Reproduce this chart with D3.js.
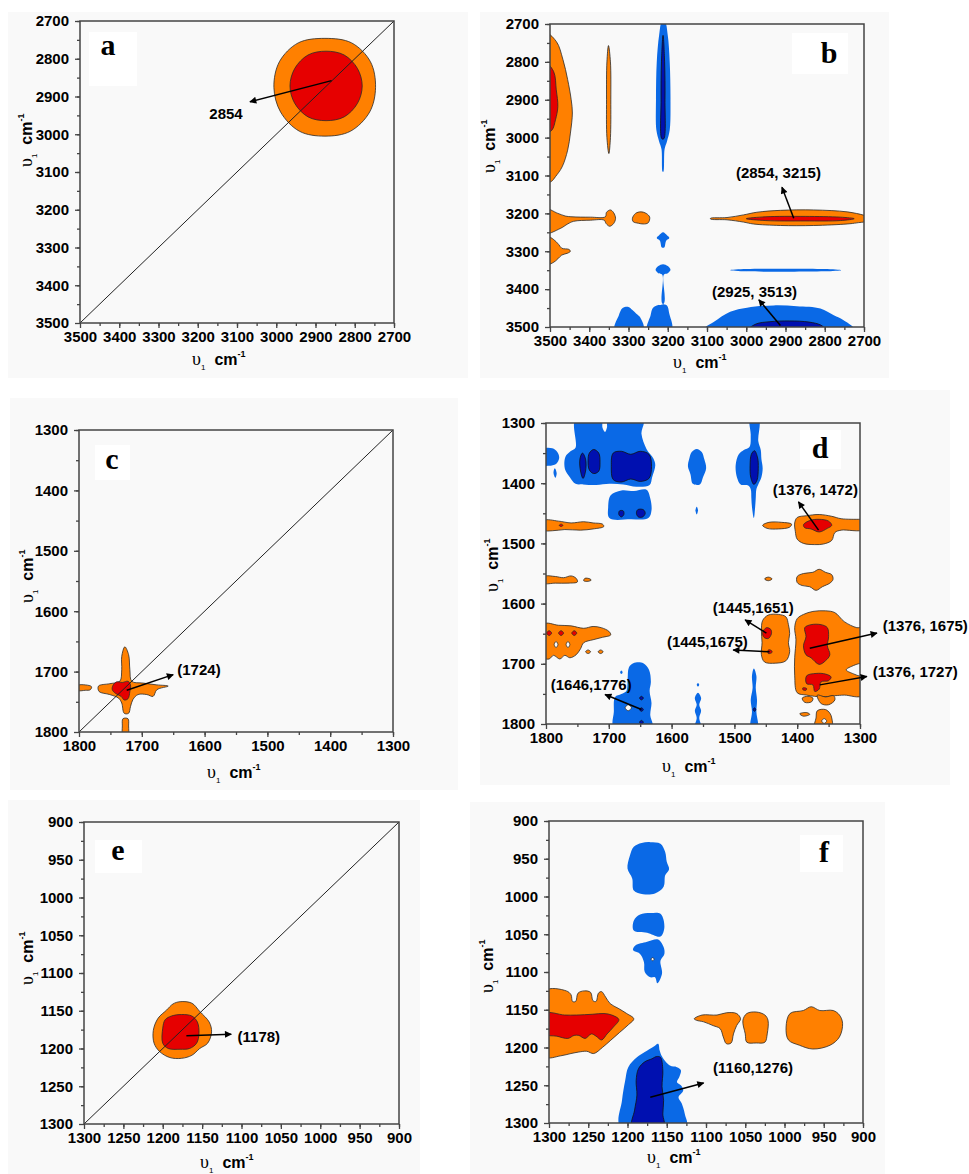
<!DOCTYPE html>
<html>
<head>
<meta charset="utf-8">
<script src="https://cdn.jsdelivr.net/npm/d3@7"></script>
<style>
body { margin: 0; background: #fff; }
</style>
</head>
<body>
<div id="chart"></div>
<script>
// tick labels (cm-1)
const ticksHigh = [3500, 3400, 3300, 3200, 3100, 3000, 2900, 2800, 2700]
const ticksMid = [1800, 1700, 1600, 1500, 1400, 1300]
const ticksLow = [1300, 1250, 1200, 1150, 1100, 1050, 1000, 950, 900]

// contour regions, [v1, v2] in cm-1, lv: o = +low, r = +high, b = -low, n = -high, w = hole
const shapesA = [
  {lv: 'o', pts: [[3006,2876],[2989,2941],[2941,2992],[2876,3005],[2811,2992],[2762,2941],[2747,2876],[2760,2808],[2808,2758],[2876,2746],[2944,2758],[2992,2808]]},
  {lv: 'r', pts: [[2965,2872],[2953,2918],[2919,2954],[2873,2964],[2827,2954],[2793,2918],[2781,2872],[2793,2826],[2827,2790],[2873,2780],[2919,2790],[2953,2826]]}
]
const shapesB = [
  {lv: 'o', pts: [[3515,2722],[3484,2746],[3467,2794],[3455,2847],[3446,2900],[3443,2935],[3448,2988],[3455,3033],[3469,3077],[3486,3103],[3497,3116],[3515,3120]]},
  {lv: 'r', pts: [[3515,2799],[3491,2825],[3484,2874],[3480,2918],[3486,2953],[3495,2980],[3515,2990]]},
  {lv: 'o', pts: [[3351,2757],[3346,2800],[3345,2900],[3346,3000],[3350,3042],[3355,3000],[3356,2900],[3355,2800]]},
  {lv: 'b', pts: [[3215,2695],[3222,2730],[3228,2800],[3230,2900],[3229,2980],[3222,3010],[3216,3030],[3213,3090],[3211,3090],[3208,3030],[3202,3010],[3195,2980],[3193,2900],[3195,2800],[3200,2730],[3207,2695]]},
  {lv: 'n', pts: [[3212,2730],[3216,2800],[3217,2900],[3215,3003],[3210,3003],[3207,2900],[3208,2800]]},
  {lv: 'o', pts: [[3515,3187],[3480,3200],[3461,3207],[3444,3209],[3397,3210],[3359,3209],[3356,3197],[3346,3191],[3338,3198],[3333,3213],[3338,3227],[3348,3234],[3357,3227],[3362,3218],[3397,3218],[3440,3221],[3455,3228],[3474,3240],[3515,3253]]},
  {lv: 'o', pts: [[3290,3213],[3282,3200],[3268,3196],[3255,3200],[3246,3210],[3250,3225],[3262,3228],[3275,3226],[3288,3222]]},
  {lv: 'o', pts: [[3091,3213],[3049,3211],[3007,3204],[2973,3197],[2913,3192],[2828,3191],[2743,3196],[2700,3205],[2690,3209],[2690,3219],[2718,3225],[2743,3228],[2828,3232],[2913,3232],[2982,3228],[3007,3223],[3049,3217],[3091,3215]]},
  {lv: 'r', pts: [[3000,3214],[2950,3209],[2850,3208],[2760,3210],[2725,3214],[2760,3219],[2850,3220],[2950,3219]]},
  {lv: 'o', pts: [[3515,3258],[3492,3268],[3478,3282],[3470,3292],[3452,3295],[3448,3300],[3455,3305],[3470,3310],[3480,3320],[3492,3330],[3515,3336]]},
  {lv: 'b', pts: [[3212,3250],[3222,3258],[3228,3265],[3220,3272],[3215,3290],[3209,3290],[3204,3272],[3196,3265],[3202,3258]]},
  {lv: 'b', pts: [[3212,3334],[3224,3339],[3231,3349],[3224,3358],[3214,3362],[3214,3438],[3202,3443],[3196,3465],[3190,3505],[3252,3505],[3244,3470],[3238,3450],[3228,3443],[3210,3438],[3210,3362],[3200,3358],[3193,3349],[3200,3339]]},
  {lv: 'b', pts: [[3335,3505],[3325,3470],[3315,3450],[3300,3447],[3290,3455],[3280,3465],[3270,3475],[3262,3505]]},
  {lv: 'b', pts: [[3042,3350],[3000,3347],[2900,3346],[2800,3347],[2758,3350],[2800,3353],[2900,3354],[3000,3353]]},
  {lv: 'b', pts: [[3107,3505],[3083,3487],[3041,3460],[2998,3449],[2930,3443],[2871,3445],[2811,3451],[2777,3469],[2752,3482],[2726,3505]]},
  {lv: 'n', pts: [[2992,3505],[2975,3492],[2940,3486],[2890,3484],[2840,3487],[2810,3495],[2800,3505]]}
]
const shapesC = [
  {lv: 'o', pts: [[1727,1659],[1721,1672],[1719,1697],[1716,1716],[1698,1719],[1676,1722],[1658,1724],[1676,1730],[1682,1741],[1692,1738],[1706,1738],[1714,1746],[1718,1758],[1721,1769],[1728,1769],[1732,1752],[1737,1744],[1751,1738],[1768,1733],[1769,1724],[1751,1720],[1735,1716],[1732,1697],[1732,1675]]},
  {lv: 'o', pts: [[1802,1723],[1790,1722],[1780,1725],[1782,1730],[1790,1731],[1802,1731]]},
  {lv: 'o', pts: [[1730,1778],[1722,1778],[1721,1790],[1722,1805],[1730,1805],[1731,1790]]},
  {lv: 'r', pts: [[1746,1723],[1740,1717],[1731,1718],[1722,1716],[1718,1722],[1719,1733],[1722,1745],[1728,1747],[1733,1741],[1742,1736],[1747,1730]]}
]
const shapesD = [
  {lv: 'b', pts: [[1753,1294],[1712,1294],[1710,1308],[1706,1315],[1703,1308],[1701,1294],[1645,1294],[1648,1318],[1640,1343],[1629,1359],[1626,1370],[1631,1390],[1635,1403],[1656,1406],[1677,1402],[1699,1401],[1720,1403],[1741,1402],[1753,1401],[1762,1390],[1770,1376],[1769,1356],[1761,1347],[1753,1341]]},
  {lv: 'b', pts: [[1803,1343],[1790,1342],[1782,1348],[1779,1358],[1784,1368],[1795,1371],[1803,1370]]},
  {lv: 'b', pts: [[1786,1375],[1783,1383],[1785,1391],[1788,1383]]},
  {lv: 'n', pts: [[1742,1350],[1737,1360],[1737,1380],[1741,1392],[1745,1380],[1746,1360]]},
  {lv: 'n', pts: [[1724,1344],[1716,1350],[1714,1365],[1716,1380],[1724,1384],[1731,1378],[1733,1362],[1731,1350]]},
  {lv: 'n', pts: [[1693,1350],[1680,1347],[1665,1352],[1650,1347],[1636,1352],[1632,1372],[1636,1392],[1650,1397],[1665,1393],[1680,1398],[1693,1394],[1696,1372]]},
  {lv: 'b', pts: [[1697,1420],[1680,1412],[1660,1413],[1640,1411],[1634,1425],[1632,1445],[1637,1458],[1665,1460],[1699,1458],[1701,1440]]},
  {lv: 'n', pts: [[1683,1446],[1677,1446],[1676,1452],[1680,1456],[1684,1452]]},
  {lv: 'n', pts: [[1654,1444],[1645,1444],[1642,1450],[1646,1456],[1653,1456],[1656,1450]]},
  {lv: 'b', pts: [[1560,1343],[1568,1348],[1572,1360],[1574,1372],[1570,1385],[1566,1401],[1555,1402],[1550,1390],[1545,1375],[1548,1360],[1552,1348]]},
  {lv: 'b', pts: [[1560,1439],[1562,1445],[1560,1452],[1558,1445]]},
  {lv: 'b', pts: [[1475,1294],[1461,1294],[1462,1330],[1458,1345],[1457,1360],[1455,1375],[1457,1390],[1462,1402],[1465,1410],[1466,1425],[1467,1440],[1469,1458],[1472,1440],[1473,1425],[1474,1410],[1478,1404],[1490,1402],[1496,1390],[1498,1370],[1493,1352],[1485,1345],[1476,1340],[1474,1320]]},
  {lv: 'n', pts: [[1468,1346],[1463,1358],[1462,1375],[1464,1395],[1469,1402],[1474,1390],[1475,1370],[1473,1352]]},
  {lv: 'b', pts: [[1661,1699],[1645,1699],[1636,1710],[1633,1730],[1635,1745],[1632,1765],[1634,1785],[1631,1805],[1692,1805],[1692,1780],[1690,1755],[1680,1750],[1672,1745],[1670,1725],[1668,1706]]},
  {lv: 'b', pts: [[1680,1711],[1682,1714],[1680,1717],[1678,1714]]},
  {lv: 'w', pts: [[1669,1768],[1664,1773],[1669,1778],[1674,1773]]},
  {lv: 'n', pts: [[1648,1754],[1651,1757],[1648,1760],[1645,1757]]},
  {lv: 'n', pts: [[1648,1773],[1651,1776],[1648,1779],[1645,1776]]},
  {lv: 'n', pts: [[1648,1794],[1651,1797],[1648,1800],[1645,1797]]},
  {lv: 'b', pts: [[1558,1732],[1560,1735],[1558,1738],[1556,1735]]},
  {lv: 'b', pts: [[1558,1748],[1563,1757],[1560,1768],[1563,1778],[1560,1790],[1563,1805],[1553,1805],[1556,1790],[1553,1778],[1556,1768],[1553,1757]]},
  {lv: 'b', pts: [[1469,1708],[1472,1720],[1471,1740],[1474,1760],[1472,1780],[1474,1805],[1463,1805],[1465,1780],[1464,1760],[1466,1740],[1465,1720]]},
  {lv: 'n', pts: [[1468,1773],[1470,1776],[1468,1779],[1466,1776]]},
  {lv: 'o', pts: [[1803,1462],[1780,1463],[1760,1466],[1740,1464],[1725,1466],[1710,1468],[1708,1472],[1725,1476],[1745,1478],[1770,1477],[1790,1479],[1803,1478]]},
  {lv: 'r', pts: [[1776,1468],[1779,1470],[1776,1472],[1773,1470]]},
  {lv: 'o', pts: [[1455,1470],[1445,1465],[1425,1465],[1409,1468],[1412,1473],[1430,1476],[1448,1475]]},
  {lv: 'o', pts: [[1404,1466],[1400,1457],[1385,1454],[1365,1452],[1345,1455],[1330,1459],[1300,1460],[1295,1460],[1295,1477],[1330,1478],[1340,1482],[1345,1495],[1358,1501],[1372,1502],[1390,1500],[1400,1493],[1403,1480]]},
  {lv: 'r', pts: [[1390,1469],[1380,1462],[1365,1460],[1350,1463],[1345,1470],[1352,1475],[1365,1481],[1378,1476],[1388,1474]]},
  {lv: 'o', pts: [[1803,1555],[1785,1555],[1772,1557],[1760,1554],[1752,1558],[1750,1564],[1765,1566],[1785,1566],[1803,1566]]},
  {lv: 'o', pts: [[1738,1558],[1730,1559],[1728,1561],[1733,1563],[1740,1562]]},
  {lv: 'o', pts: [[1452,1559],[1446,1556],[1440,1559],[1446,1562]]},
  {lv: 'o', pts: [[1400,1555],[1390,1550],[1375,1548],[1365,1543],[1355,1548],[1345,1552],[1343,1560],[1348,1566],[1360,1572],[1370,1578],[1380,1572],[1392,1570],[1400,1565]]},
  {lv: 'o', pts: [[1803,1634],[1780,1636],[1760,1637],[1740,1641],[1725,1638],[1712,1640],[1700,1646],[1697,1652],[1710,1656],[1725,1660],[1740,1665],[1745,1675],[1752,1685],[1762,1690],[1770,1686],[1778,1692],[1788,1686],[1795,1692],[1803,1690]]},
  {lv: 'r', pts: [[1795,1645],[1799,1649],[1795,1653],[1791,1649]]},
  {lv: 'r', pts: [[1776,1645],[1780,1649],[1776,1653],[1772,1649]]},
  {lv: 'r', pts: [[1755,1645],[1759,1649],[1755,1653],[1751,1649]]},
  {lv: 'w', pts: [[1784,1663],[1787,1668],[1784,1673],[1781,1668]]},
  {lv: 'w', pts: [[1765,1663],[1768,1668],[1765,1673],[1762,1668]]},
  {lv: 'o', pts: [[1733,1677],[1737,1680],[1733,1683],[1729,1680]]},
  {lv: 'o', pts: [[1713,1677],[1717,1680],[1713,1683],[1709,1680]]},
  {lv: 'o', pts: [[1446,1619],[1430,1618],[1418,1622],[1414,1635],[1412,1650],[1414,1665],[1412,1680],[1418,1695],[1435,1699],[1452,1697],[1457,1685],[1456,1665],[1457,1645],[1455,1628]]},
  {lv: 'r', pts: [[1449,1640],[1442,1643],[1441,1650],[1446,1658],[1453,1656],[1455,1648]]},
  {lv: 'r', pts: [[1446,1677],[1441,1678],[1440,1681],[1446,1683]]},
  {lv: 'o', pts: [[1400,1625],[1390,1618],[1375,1613],[1355,1612],[1340,1615],[1325,1630],[1305,1640],[1295,1640],[1295,1752],[1325,1752],[1340,1753],[1360,1755],[1385,1752],[1400,1748],[1404,1720],[1404,1690],[1402,1660],[1404,1640]]},
  {lv: 'w', pts: [[1296,1700],[1315,1705],[1322,1710],[1312,1716],[1296,1720]]},
  {lv: 'r', pts: [[1388,1640],[1378,1635],[1362,1635],[1352,1640],[1350,1655],[1352,1670],[1348,1685],[1355,1695],[1365,1701],[1378,1690],[1386,1685],[1390,1670],[1386,1655]]},
  {lv: 'r', pts: [[1385,1720],[1370,1716],[1355,1717],[1346,1722],[1350,1728],[1362,1730],[1365,1742],[1372,1746],[1375,1735],[1385,1733]]},
  {lv: 'r', pts: [[1391,1740],[1385,1741],[1386,1744],[1391,1743]]},
  {lv: 'o', pts: [[1392,1757],[1383,1754],[1375,1757],[1377,1763],[1388,1764]]},
  {lv: 'o', pts: [[1368,1752],[1355,1755],[1342,1753],[1340,1760],[1350,1768],[1362,1766]]},
  {lv: 'o', pts: [[1396,1783],[1385,1781],[1380,1784],[1390,1787]]},
  {lv: 'o', pts: [[1368,1778],[1355,1776],[1348,1782],[1345,1790],[1345,1805],[1372,1805],[1370,1790]]},
  {lv: 'w', pts: [[1357,1791],[1361,1795],[1357,1799],[1353,1795]]}
]
const shapesE = [
  {lv: 'o', pts: [[1178,1138],[1163,1140],[1153,1151],[1141,1165],[1138,1178],[1143,1193],[1153,1200],[1163,1209],[1176,1213],[1191,1212],[1204,1204],[1211,1193],[1212,1176],[1206,1160],[1195,1149],[1187,1141]]},
  {lv: 'r', pts: [[1176,1155],[1163,1157],[1156,1165],[1154,1180],[1157,1193],[1166,1200],[1178,1201],[1193,1200],[1200,1193],[1200,1173],[1197,1162],[1189,1157]]}
]
const shapesF = [
  {lv: 'b', pts: [[1171,928],[1158,930],[1152,941],[1150,954],[1147,964],[1152,972],[1154,987],[1165,996],[1180,997],[1192,992],[1194,976],[1200,963],[1197,946],[1192,934],[1182,929]]},
  {lv: 'b', pts: [[1171,1022],[1158,1023],[1153,1040],[1158,1053],[1175,1048],[1192,1045],[1192,1032],[1184,1024]]},
  {lv: 'b', pts: [[1161,1057],[1154,1067],[1153,1076],[1158,1085],[1156,1102],[1162,1115],[1165,1107],[1171,1107],[1178,1100],[1179,1087],[1184,1076],[1193,1071],[1190,1065],[1175,1060]]},
  {lv: 'w', pts: [[1168,1081],[1170,1083],[1168,1085],[1166,1083]]},
  {lv: 'b', pts: [[1209,1305],[1207,1270],[1203,1244],[1199,1226],[1188,1213],[1178,1206],[1167,1199],[1161,1195],[1159,1204],[1156,1212],[1146,1224],[1137,1226],[1132,1230],[1134,1239],[1137,1246],[1132,1250],[1129,1257],[1135,1266],[1131,1274],[1127,1288],[1125,1305]]},
  {lv: 'n', pts: [[1163,1212],[1158,1213],[1155,1230],[1156,1252],[1154,1270],[1155,1288],[1154,1305],[1194,1305],[1191,1283],[1188,1263],[1189,1244],[1186,1228],[1178,1219],[1169,1215]]},
  {lv: 'o', pts: [[1305,1125],[1278,1125],[1272,1130],[1270,1139],[1266,1139],[1263,1128],[1255,1125],[1247,1127],[1244,1138],[1240,1139],[1237,1128],[1233,1126],[1228,1133],[1222,1142],[1212,1148],[1201,1155],[1192,1162],[1199,1170],[1210,1180],[1222,1191],[1232,1200],[1243,1208],[1252,1205],[1262,1206],[1272,1208],[1285,1211],[1305,1212]]},
  {lv: 'r', pts: [[1305,1155],[1280,1157],[1265,1157],[1245,1156],[1230,1155],[1220,1157],[1211,1163],[1218,1173],[1226,1182],[1233,1190],[1240,1185],[1246,1182],[1254,1188],[1262,1184],[1268,1184],[1276,1188],[1290,1185],[1305,1182]]},
  {lv: 'o', pts: [[1115,1162],[1105,1157],[1086,1157],[1074,1154],[1061,1155],[1056,1162],[1061,1171],[1065,1182],[1068,1194],[1074,1195],[1078,1186],[1082,1175],[1091,1171],[1103,1166],[1112,1164]]},
  {lv: 'o', pts: [[1048,1155],[1036,1153],[1025,1157],[1021,1164],[1022,1182],[1025,1193],[1036,1194],[1048,1193],[1050,1182],[1053,1164]]},
  {lv: 'o', pts: [[993,1155],[976,1151],[966,1146],[955,1151],[938,1151],[930,1157],[926,1168],[930,1186],[942,1197],[964,1202],[981,1197],[995,1190],[998,1173]]}
]

// peak labels: from = peak, to = arrow tip, at = label centre
const notesA = [{t: '2854', from: [2859,2858], to: [3067,2914], at: [3128,2960]}]
const notesB = [
  {t: '(2854, 3215)', from: [2879,3213], to: [2909,3131], at: [2918,3107]},
  {t: '(2925, 3513)', from: [2913,3496], to: [2968,3428], at: [2979,3421]}
]
const notesC = [{t: '(1724)', from: [1724,1731], to: [1650,1705], at: [1609,1705]}]
const notesD = [
  {t: '(1376, 1472)', from: [1366,1478], to: [1398,1431], at: [1371,1420]},
  {t: '(1445,1651)', from: [1449,1649], to: [1483,1627], at: [1470,1616]},
  {t: '(1445,1675)', from: [1444,1680], to: [1502,1677], at: [1543,1672]},
  {t: '(1376, 1675)', from: [1380,1674], to: [1273,1649], at: [1196,1646]},
  {t: '(1376, 1727)', from: [1364,1735], to: [1289,1721], at: [1212,1722]},
  {t: '(1646,1776)', from: [1648,1776], to: [1706,1751], at: [1728,1743]}
]
const notesE = [{t: '(1178)', from: [1170,1183], to: [1113,1181], at: [1078,1192]}]
const notesF = [{t: '(1160,1276)', from: [1171,1266], to: [1103,1247], at: [1040,1234]}]

// layout
const width = 969
const height = 1174
const panels = [
  {id: 'a', ticks: ticksHigh, step: 50, shapes: shapesA, notes: notesA, diag: true,
   box: [80, 21, 394, 323], bg: [8, 12, 468, 378], lab: [89, 32, 48, 54], labXY: [108, 55], xt: [192, 365], yt: [32, 167]},
  {id: 'b', ticks: ticksHigh, step: 50, shapes: shapesB, notes: notesB, diag: false,
   box: [550, 24, 864, 327], bg: [480, 12, 889, 378], lab: [792, 33, 56, 41], labXY: [829, 63], xt: [673, 368], yt: [495, 173]},
  {id: 'c', ticks: ticksMid, step: 50, shapes: shapesC, notes: notesC, diag: true,
   box: [79, 430, 393, 732], bg: [10, 398, 458, 790], lab: [95, 445, 35, 35], labXY: [112, 469], xt: [207, 778], yt: [33, 603]},
  {id: 'd', ticks: ticksMid, step: 50, shapes: shapesD, notes: notesD, diag: false,
   box: [546, 423, 860, 724], bg: [480, 390, 950, 785], lab: [800, 430, 41, 39], labXY: [820, 458], xt: [662, 772], yt: [498, 592]},
  {id: 'e', ticks: ticksLow, step: 25, shapes: shapesE, notes: notesE, diag: true,
   box: [84, 822, 399, 1124], bg: [8, 800, 420, 1174], lab: [95, 840, 47, 33], labXY: [118, 860], xt: [200, 1168], yt: [33, 985]},
  {id: 'f', ticks: ticksLow, step: 25, shapes: shapesF, notes: notesF, diag: false,
   box: [549, 821, 863, 1123], bg: [470, 802, 885, 1174], lab: [800, 835, 43, 37], labXY: [824, 862], xt: [647, 1163], yt: [493, 993]}
]

const fills = {o: '#ff8000', r: '#e60000', b: '#0a69e6', n: '#0010b0', w: '#f9f9f9'}
const strokes = {o: '#2b2b2b', r: '#2b2b2b', b: 'none', n: '#111', w: '#2b2b2b'}
const sans = "'Liberation Sans', Arial, sans-serif"
const serif = "'Liberation Serif', 'Times New Roman', serif"

const svg = d3.select('#chart').append('svg')
  .attr('width', width).attr('height', height)

svg.append('defs').append('marker')
  .attr('id', 'arrow')
  .attr('viewBox', '0 0 10 10')
  .attr('refX', 9).attr('refY', 5)
  .attr('markerWidth', 9).attr('markerHeight', 7)
  .attr('markerUnits', 'userSpaceOnUse')
  .attr('orient', 'auto')
  .append('path').attr('d', 'M0,0L10,5L0,10Z').attr('fill', '#000')

function axisTitle(g, x, y, rotate) {
  const t = g.append('text')
    .attr('transform', rotate ? `translate(${x},${y}) rotate(-90)` : `translate(${x},${y})`)
    .attr('fill', '#000')
  t.append('tspan').attr('font-family', serif).attr('font-size', 18).text('υ')
  t.append('tspan').attr('font-family', sans).attr('font-size', 8).attr('dy', 5).text('1')
  t.append('tspan').attr('font-family', sans).attr('font-weight', 'bold').attr('font-size', 16)
    .attr('dx', 9).attr('dy', -5).text('cm')
  t.append('tspan').attr('font-family', sans).attr('font-weight', 'bold').attr('font-size', 9)
    .attr('dy', -8).text('-1')
}

panels.forEach(p => {
  const [x0, y0, x1, y1] = p.box
  const lo = p.ticks[p.ticks.length - 1], hi = p.ticks[0]
  const x = d3.scaleLinear().domain([hi, lo]).range([x0, x1])
  const y = d3.scaleLinear().domain([lo, hi]).range([y0, y1])
  const g = svg.append('g').attr('id', 'panel-' + p.id)

  g.append('rect')
    .attr('x', p.bg[0]).attr('y', p.bg[1])
    .attr('width', p.bg[2] - p.bg[0]).attr('height', p.bg[3] - p.bg[1])
    .attr('fill', '#f9f9f9')

  g.append('clipPath').attr('id', 'clip-' + p.id)
    .append('rect').attr('x', x0).attr('y', y0).attr('width', x1 - x0).attr('height', y1 - y0)

  // panel letter box
  g.append('rect')
    .attr('x', p.lab[0]).attr('y', p.lab[1]).attr('width', p.lab[2]).attr('height', p.lab[3])
    .attr('fill', '#fff')

  const line = d3.line()
    .x(d => x(d[0])).y(d => y(d[1]))
    .curve(d3.curveCatmullRomClosed.alpha(0.5))

  const marks = g.append('g').attr('clip-path', `url(#clip-${p.id})`)
  marks.selectAll('path.contour')
    .data(p.shapes)
    .join('path')
      .attr('class', 'contour')
      .attr('d', d => line(d.pts))
      .attr('fill', d => fills[d.lv])
      .attr('stroke', d => strokes[d.lv])
      .attr('stroke-width', 0.8)

  if (p.diag) {
    marks.append('line')
      .attr('x1', x(hi)).attr('y1', y(hi))
      .attr('x2', x(lo)).attr('y2', y(lo))
      .attr('stroke', '#222').attr('stroke-width', 1)
  }

  // axes
  const fmt = d3.format('d')
  const xAxisGroup = g.append('g').attr('transform', `translate(0,${y1})`)
  xAxisGroup.append('g').call(d3.axisBottom(x).tickValues(d3.range(lo, hi, p.step)).tickSize(3).tickFormat(''))
  xAxisGroup.append('g').call(d3.axisBottom(x).tickValues(p.ticks).tickSize(5).tickPadding(3).tickFormat(fmt))
  const yAxisGroup = g.append('g').attr('transform', `translate(${x0},0)`)
  yAxisGroup.append('g').call(d3.axisLeft(y).tickValues(d3.range(lo, hi, p.step)).tickSize(3).tickFormat(''))
  yAxisGroup.append('g').call(d3.axisLeft(y).tickValues(p.ticks).tickSize(5).tickPadding(6).tickFormat(fmt))
  g.selectAll('.domain').remove()
  g.selectAll('.tick line').attr('stroke', '#444').attr('stroke-width', 1.3)
  g.selectAll('.tick text')
    .attr('font-family', sans).attr('font-weight', 'bold').attr('font-size', 15).attr('fill', '#000')

  g.append('rect')
    .attr('x', x0).attr('y', y0).attr('width', x1 - x0).attr('height', y1 - y0)
    .attr('fill', 'none').attr('stroke', '#444').attr('stroke-width', 1.5)

  // peak labels
  p.notes.forEach(n => {
    g.append('line')
      .attr('x1', x(n.from[0])).attr('y1', y(n.from[1]))
      .attr('x2', x(n.to[0])).attr('y2', y(n.to[1]))
      .attr('stroke', '#000').attr('stroke-width', 1.5)
      .attr('marker-end', 'url(#arrow)')
    g.append('text')
      .attr('x', x(n.at[0])).attr('y', y(n.at[1]))
      .attr('text-anchor', 'middle')
      .attr('font-family', sans).attr('font-weight', 'bold').attr('font-size', 15)
      .text(n.t)
  })

  g.append('text')
    .attr('x', p.labXY[0]).attr('y', p.labXY[1])
    .attr('text-anchor', 'middle')
    .attr('font-family', serif).attr('font-weight', 'bold').attr('font-size', 30)
    .text(p.id)

  axisTitle(g, p.xt[0], p.xt[1], false)
  axisTitle(g, p.yt[0], p.yt[1], true)
})
</script>
</body>
</html>
